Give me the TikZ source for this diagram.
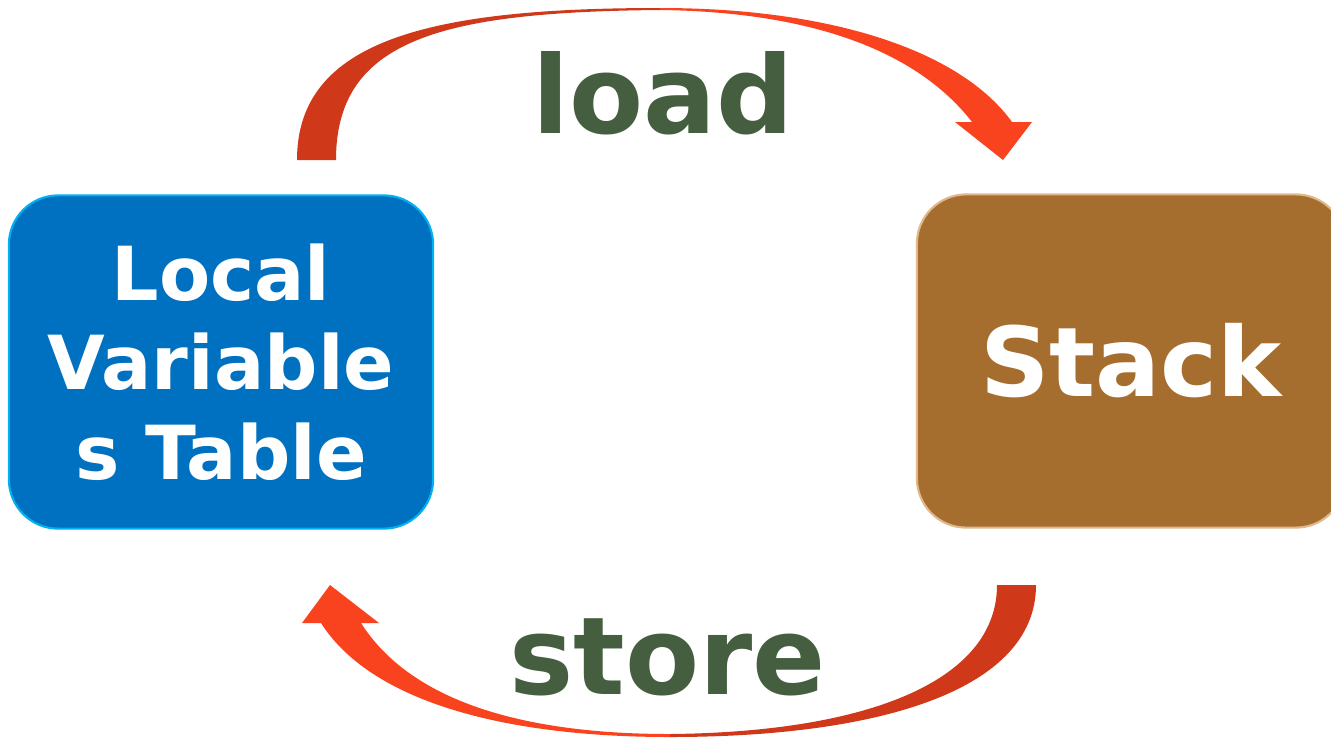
\documentclass[tikz,border=0pt]{standalone}
\usepackage{fontspec}
\setmainfont{DejaVu Sans}
\definecolor{lvtblue}{HTML}{0070C0}
\definecolor{lvtedge}{HTML}{00B0F0}
\definecolor{stackbrown}{HTML}{A66E2E}
\definecolor{stackedge}{HTML}{E0B88C}
\definecolor{arrowdark}{HTML}{D0381A}
\definecolor{arrowlight}{HTML}{F9431F}
\definecolor{labelgreen}{HTML}{445E3F}
\tikzset{
  memorybox/.style={rounded corners=14pt, line width=0.6pt, minimum width=4.24cm,
    minimum height=3.33cm, inner sep=0pt, align=center, text=white},
  oplabel/.style={text=labelgreen, anchor=base, inner sep=0pt,
    font=\fontsize{30.7pt}{36pt}\selectfont\bfseries},
}

\begin{document}
\begin{tikzpicture}[x=0.01cm,y=-0.01cm]
      \useasboundingbox (0,0) rectangle (1331,739);

      \node (lvt) [memorybox, fill=lvtblue, draw=lvtedge,
        font=\fontsize{21.2pt}{25.5pt}\selectfont\bfseries] at (221,362) {Local\\Variable\\s Table};
      \node (stack) [memorybox, fill=stackbrown, draw=stackedge, minimum width=4.28cm,
        font=\fontsize{27.4pt}{34pt}\selectfont\bfseries] at (1131,361) {Stack};

      \node (load) [oplabel] at (663,133) {load};
      \node (store) [oplabel] at (668,694) {store};

      % load arrow
      \fill[arrowdark] (297,160) .. controls (297,40) and (430,8) .. (660,8)
        -- (660,10) .. controls (440,12) and (336,40) .. (336,160) -- cycle;
      \fill[arrowlight] (660,8) .. controls (830,8) and (960,50) .. (1012,122)
        -- (1032,122) -- (1003,160) -- (955,122) -- (972,122)
        .. controls (920,55) and (820,12) .. (660,10) -- cycle;

      % store arrow
      \fill[arrowdark] (1036,585) .. controls (1036,690) and (880,737) .. (670,737)
        -- (670,734) .. controls (870,732) and (997,680) .. (997,585) -- cycle;
      \fill[arrowlight] (670,737) .. controls (500,737) and (370,700) .. (321,623)
        -- (302,623) -- (330,585) -- (379,623) -- (361,623)
        .. controls (410,700) and (520,734) .. (670,734) -- cycle;
    \end{tikzpicture}
\end{document}
